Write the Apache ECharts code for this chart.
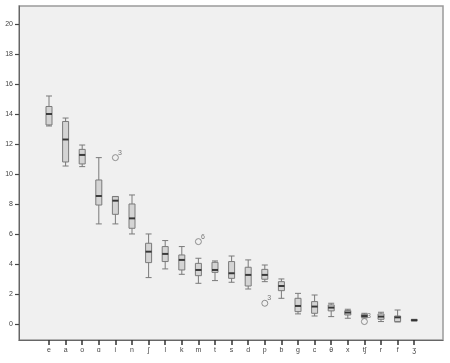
<!DOCTYPE html>
<html><head><meta charset="utf-8">
<script src="https://cdn.jsdelivr.net/npm/echarts@6/dist/echarts.min.js"></script>
<style>html,body{margin:0;padding:0;background:#fff}#c{width:450px;height:363px}</style>
</head><body><div id="c"></div>
<script>
const categories = ["e","a","o","ɑ","i","n","ʃ","l","k","m","t","s","d","p","b","g","c","θ","x","tʃ","r","f","ʒ"];
const mins    = [13.2,10.53,10.49,6.67,6.67,6.0,3.09,3.67,3.31,2.71,2.89,2.78,2.33,2.82,1.71,0.67,0.53,0.49,0.38,0.40,0.16,0.13,0.20];
const q1s     = [13.27,10.8,10.67,7.93,7.31,6.38,4.09,4.16,3.6,3.22,3.44,3.04,2.53,2.98,2.22,0.82,0.71,0.87,0.60,0.44,0.31,0.16,0.22];
const medians = [14.0,12.3,11.27,8.53,8.22,7.04,4.82,4.67,4.27,3.6,3.6,3.38,3.27,3.27,2.53,1.2,1.16,1.09,0.76,0.53,0.49,0.44,0.25];
const q3s     = [14.5,13.5,11.64,9.6,8.49,8.0,5.38,5.16,4.6,4.04,4.11,4.16,3.78,3.64,2.82,1.71,1.49,1.27,0.89,0.64,0.67,0.53,0.29];
const maxs    = [15.2,13.73,11.93,11.09,8.5,8.6,6.0,5.56,5.16,4.38,4.2,4.53,4.27,3.93,3.0,2.04,1.93,1.38,0.98,0.71,0.78,0.93,0.31];
const outlierCats   = [4, 9, 13, 19];
const outlierValues = [11.09, 5.49, 1.38, 0.16];
const outlierLabels = ["3", "6", "3", "3"];
const yTicks = [0,2,4,6,8,10,12,14,16,18,20];
const yMin = -1.07, yMax = 21.2;

const boxData = categories.map((c, i) => [mins[i], q1s[i], medians[i], q3s[i], maxs[i]]);
const medData = categories.map((c, i) => [i, medians[i]]);
const outData = outlierCats.map((c, i) => ({value: [c, outlierValues[i]], label: {formatter: outlierLabels[i]}}));

const font = "Liberation Sans";
const chart = echarts.init(document.getElementById('c'), null, {renderer: 'canvas'});
chart.setOption({
  animation: false,
  backgroundColor: '#fff',
  grid: [
    {left: 19, right: 7, top: 6, bottom: 23, show: true, backgroundColor: '#f0f0f0', borderColor: '#9a9a9a', borderWidth: 1.5},
    {left: 40.7, right: 27.5, top: 6, bottom: 23}
  ],
  xAxis: [
    {gridIndex: 0, type: 'value', min: 0, max: 1, axisLine: {show: true, onZero: false, lineStyle: {color: '#666', width: 1}}, axisTick: {show: false}, axisLabel: {show: false}, splitLine: {show: false}},
    {gridIndex: 1, type: 'category', data: categories, boundaryGap: true, position: 'bottom',
     axisLine: {show: true, onZero: false, lineStyle: {color: '#666', width: 1}},
     axisTick: {show: true, inside: false, alignWithLabel: true, interval: 0, length: 5, lineStyle: {color: '#333', width: 1.5}},
     axisLabel: {fontSize: 7, color: '#444', margin: 7, fontFamily: font, interval: 0}, splitLine: {show: false}}
  ],
  yAxis: [
    {gridIndex: 0, type: 'value', min: yMin, max: yMax,
     axisLine: {show: true, lineStyle: {color: '#666', width: 1}},
     axisTick: {show: true, length: 4, customValues: yTicks, lineStyle: {color: '#444', width: 1.2}},
     axisLabel: {fontSize: 7, color: '#444', margin: 6, fontFamily: font, customValues: yTicks},
     splitLine: {show: false}},
    {gridIndex: 1, type: 'value', min: yMin, max: yMax, show: false, splitLine: {show: false}}
  ],
  series: [
    {type: 'boxplot', xAxisIndex: 1, yAxisIndex: 1, data: boxData, boxWidth: [6, 6],
     itemStyle: {color: '#d4d4d4', borderColor: '#7a7a7a', borderWidth: 1}},
    {type: 'scatter', xAxisIndex: 1, yAxisIndex: 1, data: medData, symbol: 'rect', symbolSize: [6, 2],
     itemStyle: {color: '#222'}, z: 5},
    {type: 'scatter', xAxisIndex: 1, yAxisIndex: 1, data: outData, symbol: 'circle', symbolSize: 6,
     itemStyle: {color: 'rgba(0,0,0,0)', borderColor: '#777', borderWidth: 1},
     label: {show: true, position: [6, -5], fontSize: 7, color: '#555', fontFamily: font}, z: 5}
  ]
});
</script></body></html>
